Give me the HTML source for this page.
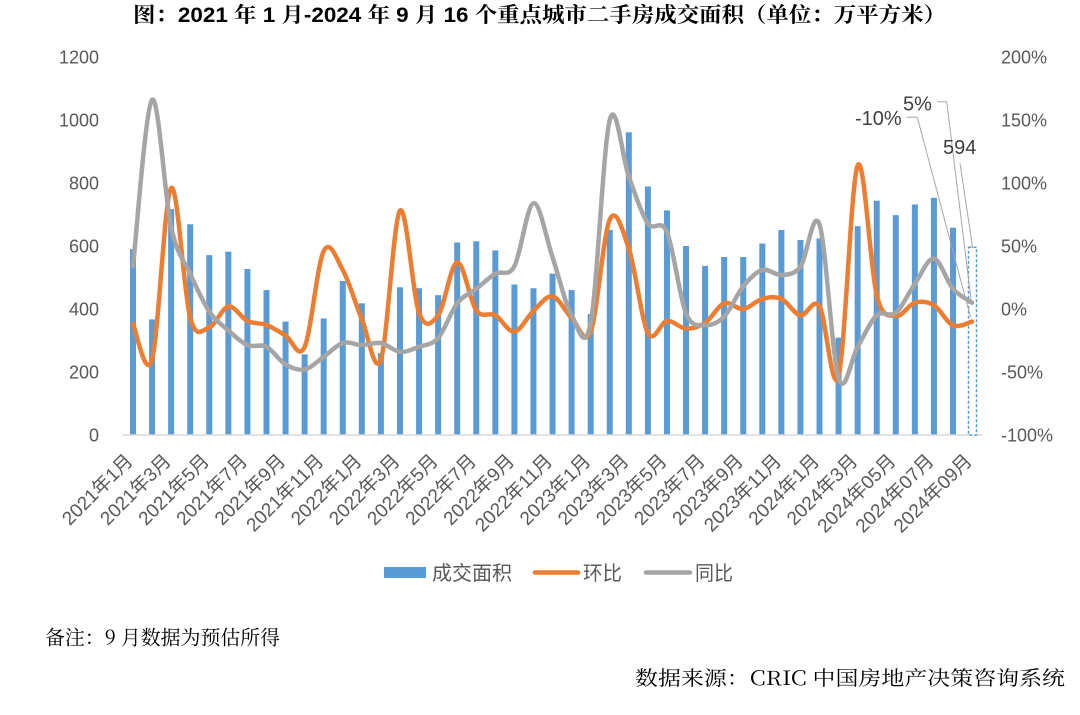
<!DOCTYPE html>
<html>
<head>
<meta charset="utf-8">
<style>
html,body{margin:0;padding:0;background:#fff;}
svg{display:block;}
.ax{font-family:"Liberation Sans","Noto Sans CJK SC",sans-serif;font-size:18px;fill:#595959;}
.xl{font-family:"Liberation Sans","Noto Sans CJK SC",sans-serif;font-size:19px;fill:#595959;}
.lg{font-family:"Liberation Sans","Noto Sans CJK SC",sans-serif;font-size:20px;fill:#595959;}
.dl{font-family:"Liberation Sans","Noto Sans CJK SC",sans-serif;font-size:20px;fill:#404040;}
.ti{font-family:"Liberation Sans","Noto Serif CJK SC",serif;font-size:21px;font-weight:bold;fill:#000;}
.ft{font-family:"Noto Serif CJK SC","Liberation Serif",serif;font-size:20px;fill:#000;}
</style>
</head>
<body>
<svg id="chart" width="1080" height="715" viewBox="0 0 1080 715" xmlns="http://www.w3.org/2000/svg">
  <rect x="0" y="0" width="1080" height="715" fill="#fff"/>
  <!-- title -->
  <text class="ti" x="133" y="22" textLength="813" lengthAdjust="spacingAndGlyphs">图：2021 年 1 月-2024 年 9 月 16 个重点城市二手房成交面积（单位：万平方米）</text>

  <!-- left axis labels -->
  <g class="ax" text-anchor="end">
    <text x="99" y="63.5">1200</text>
    <text x="99" y="126.5">1000</text>
    <text x="99" y="189.5">800</text>
    <text x="99" y="252.5">600</text>
    <text x="99" y="315.5">400</text>
    <text x="99" y="378.5">200</text>
    <text x="99" y="441.5">0</text>
  </g>
  <!-- right axis labels -->
  <g class="ax">
    <text x="1001" y="63.5">200%</text>
    <text x="1001" y="126.5">150%</text>
    <text x="1001" y="189.5">100%</text>
    <text x="1001" y="252.5">50%</text>
    <text x="1001" y="315.5">0%</text>
    <text x="1001" y="378.5">-50%</text>
    <text x="1001" y="441.5">-100%</text>
  </g>

  <g id="bars"></g>
  <line x1="123" y1="435" x2="982" y2="435" stroke="#D9D9D9" stroke-width="1.5"/>
  <rect x="968.5" y="247.3" width="8" height="187.7" fill="#fff" stroke="#5B9BD5" stroke-width="1.5" stroke-dasharray="3,2"/>

  <path id="orange" fill="none" stroke="#ED7D31" stroke-width="4.5" stroke-linecap="round" stroke-linejoin="round"/>
  <path id="gray" fill="none" stroke="#A5A5A5" stroke-width="4.5" stroke-linecap="round" stroke-linejoin="round"/>

  <!-- leader lines -->
  <g stroke="#A6A6A6" stroke-width="1" fill="none">
    <polyline points="906.7,117.3 917.3,117.3 970.5,317"/>
    <polyline points="937.3,101.7 946.7,101.7 971,299"/>
    <polyline points="960,163.3 972.7,248"/>
  </g>
  <g class="dl">
    <text x="855" y="125">-10%</text>
    <text x="903" y="110.5">5%</text>
    <text x="943" y="154">594</text>
  </g>

  <!-- x axis labels -->
  <g class="xl" text-anchor="end">
    <text transform="translate(134,462) rotate(-45)">2021年1月</text>
    <text transform="translate(172.1,462) rotate(-45)">2021年3月</text>
    <text transform="translate(210.3,462) rotate(-45)">2021年5月</text>
    <text transform="translate(248.4,462) rotate(-45)">2021年7月</text>
    <text transform="translate(286.6,462) rotate(-45)">2021年9月</text>
    <text transform="translate(324.7,462) rotate(-45)">2021年11月</text>
    <text transform="translate(362.8,462) rotate(-45)">2022年1月</text>
    <text transform="translate(401,462) rotate(-45)">2022年3月</text>
    <text transform="translate(439.1,462) rotate(-45)">2022年5月</text>
    <text transform="translate(477.3,462) rotate(-45)">2022年7月</text>
    <text transform="translate(515.4,462) rotate(-45)">2022年9月</text>
    <text transform="translate(553.5,462) rotate(-45)">2022年11月</text>
    <text transform="translate(591.7,462) rotate(-45)">2023年1月</text>
    <text transform="translate(629.8,462) rotate(-45)">2023年3月</text>
    <text transform="translate(668,462) rotate(-45)">2023年5月</text>
    <text transform="translate(706.1,462) rotate(-45)">2023年7月</text>
    <text transform="translate(744.2,462) rotate(-45)">2023年9月</text>
    <text transform="translate(782.4,462) rotate(-45)">2023年11月</text>
    <text transform="translate(820.5,462) rotate(-45)">2024年1月</text>
    <text transform="translate(858.7,462) rotate(-45)">2024年3月</text>
    <text transform="translate(896.8,462) rotate(-45)">2024年05月</text>
    <text transform="translate(934.9,462) rotate(-45)">2024年07月</text>
    <text transform="translate(973.1,462) rotate(-45)">2024年09月</text>
  </g>

  <!-- legend -->
  <rect x="384" y="567" width="42" height="11" fill="#5B9BD5"/>
  <text class="lg" x="432" y="580" textLength="80" lengthAdjust="spacingAndGlyphs">成交面积</text>
  <line x1="535" y1="572.5" x2="578" y2="572.5" stroke="#ED7D31" stroke-width="4.5" stroke-linecap="round"/>
  <text class="lg" x="583" y="580" textLength="39" lengthAdjust="spacingAndGlyphs">环比</text>
  <line x1="646" y1="572.5" x2="690" y2="572.5" stroke="#A5A5A5" stroke-width="4.5" stroke-linecap="round"/>
  <text class="lg" x="695" y="580" textLength="38" lengthAdjust="spacingAndGlyphs">同比</text>

  <!-- footers -->
  <text class="ft" x="45" y="644.5" textLength="235" lengthAdjust="spacingAndGlyphs">备注：9 月数据为预估所得</text>
  <text class="ft" x="635" y="685" textLength="430" lengthAdjust="spacingAndGlyphs">数据来源：CRIC 中国房地产决策咨询系统</text>
</svg>
<script>
(function(){
  var bars=[590,367,717,669,571,582,527,460,360,256,370,489,418,260,469,466,444,611,615,586,478,466,512,460,384,651,961,789,713,600,537,565,565,608,651,619,624,309,663,744,698,732,753,658,594];
  var orange=[-12,-40,96,-7,-14.5,2,-9.5,-12.7,-21,-30,46,31,-8,-40,78,-3,-5,37,-1,-5,-18,-1.5,10,-7,-18,71,48,-19,-9.5,-15.5,-11,4.5,0,8,8,-5,2,-53,114,11,-5.5,5,3,-13,-10];
  var gray=[34,166,65,28,-2,-17,-28.6,-30,-44,-48,-38,-27,-28.6,-27,-34,-30,-23,4.5,16,28,34,84,41,-5,-11,150,105,68,61,-3.5,-12.7,-6,18,31,27,33.6,67,-55,-30,-5,-3,20,40,16,5];
  function X(i){return 133+i*19.07;}
  function YL(v){return 435-v*0.315;}
  function YR(p){return 309-p*1.26;}
  var NS="http://www.w3.org/2000/svg";
  var g=document.getElementById("bars");
  for(var i=0;i<bars.length-1;i++){
    var r=document.createElementNS(NS,"rect");
    var y=YL(bars[i]);
    r.setAttribute("x",(X(i)-3).toFixed(2));
    r.setAttribute("y",y.toFixed(2));
    r.setAttribute("width","6");
    r.setAttribute("height",(435-y).toFixed(2));
    r.setAttribute("fill","#5B9BD5");
    g.appendChild(r);
  }
  function smooth(vals){
    var p=vals.map(function(v,i){return [X(i),YR(v)];});
    var d="M"+p[0][0].toFixed(2)+","+p[0][1].toFixed(2);
    for(var i=0;i<p.length-1;i++){
      var p0=p[i-1]||p[i],p1=p[i],p2=p[i+1],p3=p[i+2]||p[i+1];
      var c1x=p1[0]+(p2[0]-p0[0])/6,c1y=p1[1]+(p2[1]-p0[1])/6;
      var c2x=p2[0]-(p3[0]-p1[0])/6,c2y=p2[1]-(p3[1]-p1[1])/6;
      d+=" C"+c1x.toFixed(2)+","+c1y.toFixed(2)+" "+c2x.toFixed(2)+","+c2y.toFixed(2)+" "+p2[0].toFixed(2)+","+p2[1].toFixed(2);
    }
    return d;
  }
  document.getElementById("orange").setAttribute("d",smooth(orange));
  document.getElementById("gray").setAttribute("d",smooth(gray));
})();
</script>
</body>
</html>
